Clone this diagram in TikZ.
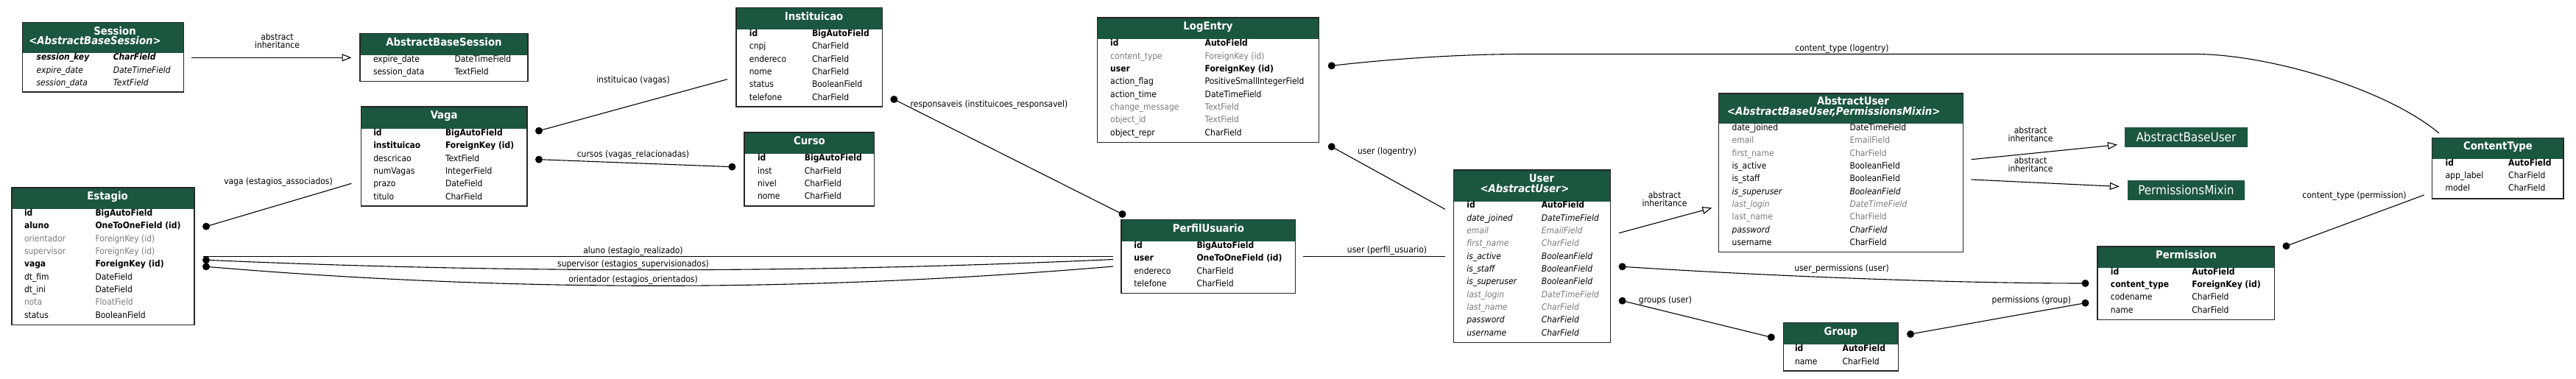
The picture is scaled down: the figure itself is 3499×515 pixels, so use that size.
\documentclass[tikz,border=0pt]{standalone}
\usepackage{fontspec}
\setmainfont{DejaVu Sans Condensed}[BoldFont={DejaVu Sans Condensed Bold},ItalicFont={DejaVu Sans Condensed Oblique},BoldItalicFont={DejaVu Sans Condensed Bold Oblique}]
\usetikzlibrary{arrows.meta,fit}
\definecolor{hdrg}{HTML}{1B563F}
\definecolor{fgrey}{HTML}{7B7B7B}
\tikzset{
  every node/.style={inner sep=0pt, outer sep=0pt},
  fld/.style={anchor=mid west},
  fn/.style={font=\fontsize{12}{14}\selectfont},
  fb/.style={font=\fontsize{12}{14}\selectfont\bfseries},
  fi/.style={font=\fontsize{12}{14}\selectfont\itshape},
  fbi/.style={font=\fontsize{12}{14}\selectfont\bfseries\itshape},
  fg/.style={font=\fontsize{12}{14}\selectfont, text=fgrey},
  fgi/.style={font=\fontsize{12}{14}\selectfont\itshape, text=fgrey},
  ttl/.style={anchor=mid, text=white, font=\fontsize{14.8}{16}\selectfont\bfseries},
  tblbox/.style={draw=black!85, line width=1.3bp, inner sep=0pt},
  plainbox/.style={fill=hdrg, text=white, font=\fontsize{17}{18}\selectfont, anchor=center},
  edge/.style={draw=black, line width=1.1bp},
  inh/.style={edge, -{Triangle[open, length=13bp, width=10bp, line width=1.1bp]}},
  lbl/.style={anchor=mid, align=center, font=\fontsize{12}{11}\selectfont},
  dotn/.style={circle, fill=black, minimum size=10bp},
}
\newcommand\ertbl[6]{%
  \fill[hdrg] (#2,#3) rectangle (#4,#6);
  \coordinate (#1-nw) at (#2,#3); \coordinate (#1-se) at (#4,#5);
  \node[tblbox, fit=(#1-nw)(#1-se)] (#1) {};}
\newcommand\ertrow[7]{%
  \node[fld,#2] (#1k) at (#3,#5) {#6};
  \node[fld,#2] (#1t) at (#4,#5) {#7};}
\begin{document}
\begin{tikzpicture}[x=1bp,y=-1bp]
\fill[white] (0,0) rectangle (3499,515);
\useasboundingbox (0,0) rectangle (3499,515);

% ---------- Session
\ertbl{ses}{30.8}{30.7}{249.3}{125}{72.3}
\node[ttl] (sesT1) at (156,44.3) {Session};
\node[ttl] (sesT2) at (129,57.8) {<\textit{AbstractBaseSession}>};
\ertrow{ses1}{fbi}{49.6}{153.8}{79}{session\_key}{CharField}
\ertrow{ses2}{fi}{49.6}{153.8}{96.3}{expire\_date}{DateTimeField}
\ertrow{ses3}{fi}{49.6}{153.8}{113.7}{session\_data}{TextField}

% ---------- AbstractBaseSession
\ertbl{abs}{489}{45.7}{717}{110.7}{75}
\node[ttl] (absT) at (603,59.3) {AbstractBaseSession};
\ertrow{abs1}{fn}{507}{617.5}{81.7}{expire\_date}{DateTimeField}
\ertrow{abs2}{fn}{507}{617.5}{99}{session\_data}{TextField}

% ---------- Vaga
\ertbl{vag}{490.4}{145}{716}{280}{175}
\node[ttl] (vagT) at (603.2,159) {Vaga};
\ertrow{vag1}{fb}{507.3}{605}{181.7}{id}{BigAutoField}
\ertrow{vag2}{fb}{507.3}{605}{199}{instituicao}{ForeignKey (id)}
\ertrow{vag3}{fn}{507.3}{605}{216.3}{descricao}{TextField}
\ertrow{vag4}{fn}{507.3}{605}{233.6}{numVagas}{IntegerField}
\ertrow{vag5}{fn}{507.3}{605}{251}{prazo}{DateField}
\ertrow{vag6}{fn}{507.3}{605}{268.3}{titulo}{CharField}

% ---------- Estagio
\ertbl{est}{16}{255}{264}{441.7}{284.3}
\node[ttl] (estT) at (146,268.3) {Estagio};
\ertrow{est1}{fb}{33}{129.5}{290.7}{id}{BigAutoField}
\ertrow{est2}{fb}{33}{129.5}{308}{aluno}{OneToOneField (id)}
\ertrow{est3}{fg}{33}{129.5}{325.3}{orientador}{ForeignKey (id)}
\ertrow{est4}{fg}{33}{129.5}{342.7}{supervisor}{ForeignKey (id)}
\ertrow{est5}{fb}{33}{129.5}{360}{vaga}{ForeignKey (id)}
\ertrow{est6}{fn}{33}{129.5}{377.3}{dt\_fim}{DateField}
\ertrow{est7}{fn}{33}{129.5}{394.7}{dt\_ini}{DateField}
\ertrow{est8}{fg}{33}{129.5}{412}{nota}{FloatField}
\ertrow{est9}{fn}{33}{129.5}{429.3}{status}{BooleanField}

% ---------- Instituicao
\ertbl{ins}{1000}{10.7}{1198.5}{145}{40}
\node[ttl] (insT) at (1105.6,24.3) {Instituicao};
\ertrow{ins1}{fb}{1017.9}{1103}{46.7}{id}{BigAutoField}
\ertrow{ins2}{fn}{1017.9}{1103}{64}{cnpj}{CharField}
\ertrow{ins3}{fn}{1017.9}{1103}{81.3}{endereco}{CharField}
\ertrow{ins4}{fn}{1017.9}{1103}{98.7}{nome}{CharField}
\ertrow{ins5}{fn}{1017.9}{1103}{116}{status}{BooleanField}
\ertrow{ins6}{fn}{1017.9}{1103}{133.3}{telefone}{CharField}

% ---------- Curso
\ertbl{cur}{1011}{180}{1187.8}{280}{209.3}
\node[ttl] (curT) at (1099.4,193.8) {Curso};
\ertrow{cur1}{fb}{1029}{1092.9}{216}{id}{BigAutoField}
\ertrow{cur2}{fn}{1029}{1092.9}{233.3}{inst}{CharField}
\ertrow{cur3}{fn}{1029}{1092.9}{250.7}{nivel}{CharField}
\ertrow{cur4}{fn}{1029}{1092.9}{268}{nome}{CharField}

% ---------- LogEntry
\ertbl{log}{1490.3}{24}{1791.8}{193.3}{53.3}
\node[ttl] (logT) at (1641,37.7) {LogEntry};
\ertrow{log1}{fb}{1508.2}{1636.7}{60}{id}{AutoField}
\ertrow{log2}{fg}{1508.2}{1636.7}{77.3}{content\_type}{ForeignKey (id)}
\ertrow{log3}{fb}{1508.2}{1636.7}{94.7}{user}{ForeignKey (id)}
\ertrow{log4}{fn}{1508.2}{1636.7}{112}{action\_flag}{PositiveSmallIntegerField}
\ertrow{log5}{fn}{1508.2}{1636.7}{129.3}{action\_time}{DateTimeField}
\ertrow{log6}{fg}{1508.2}{1636.7}{146.7}{change\_message}{TextField}
\ertrow{log7}{fg}{1508.2}{1636.7}{164}{object\_id}{TextField}
\ertrow{log8}{fn}{1508.2}{1636.7}{181.3}{object\_repr}{CharField}

% ---------- PerfilUsuario
\ertbl{per}{1523}{298.7}{1759.7}{398.7}{328.3}
\node[ttl] (perT) at (1641.4,312.3) {PerfilUsuario};
\ertrow{per1}{fb}{1540.3}{1625.5}{334.7}{id}{BigAutoField}
\ertrow{per2}{fb}{1540.3}{1625.5}{352}{user}{OneToOneField (id)}
\ertrow{per3}{fn}{1540.3}{1625.5}{369.3}{endereco}{CharField}
\ertrow{per4}{fn}{1540.3}{1625.5}{386.7}{telefone}{CharField}

% ---------- User
\ertbl{usr}{1974.5}{231}{2187.8}{465.3}{274}
\node[ttl] (usrT1) at (2094,245) {User};
\node[ttl] (usrT2) at (2071,259) {<\textit{AbstractUser}>};
\ertrow{usr1}{fb}{1992.3}{2093.9}{280}{id}{AutoField}
\ertrow{usr2}{fi}{1992.3}{2093.9}{297.3}{date\_joined}{DateTimeField}
\ertrow{usr3}{fgi}{1992.3}{2093.9}{314.7}{email}{EmailField}
\ertrow{usr4}{fgi}{1992.3}{2093.9}{332}{first\_name}{CharField}
\ertrow{usr5}{fi}{1992.3}{2093.9}{349.3}{is\_active}{BooleanField}
\ertrow{usr6}{fi}{1992.3}{2093.9}{366.7}{is\_staff}{BooleanField}
\ertrow{usr7}{fi}{1992.3}{2093.9}{384}{is\_superuser}{BooleanField}
\ertrow{usr8}{fgi}{1992.3}{2093.9}{401.3}{last\_login}{DateTimeField}
\ertrow{usr9}{fgi}{1992.3}{2093.9}{418.7}{last\_name}{CharField}
\ertrow{usr10}{fi}{1992.3}{2093.9}{436}{password}{CharField}
\ertrow{usr11}{fi}{1992.3}{2093.9}{453.3}{username}{CharField}

% ---------- AbstractUser
\ertbl{abu}{2334.8}{127}{2666.5}{342.7}{168.3}
\node[ttl] (abuT1) at (2517,140) {AbstractUser};
\node[ttl] (abuT2) at (2490.7,153.5) {<\textit{AbstractBaseUser,PermissionsMixin}>};
\ertrow{abu1}{fn}{2352.7}{2512.5}{174.7}{date\_joined}{DateTimeField}
\ertrow{abu2}{fg}{2352.7}{2512.5}{192}{email}{EmailField}
\ertrow{abu3}{fg}{2352.7}{2512.5}{209.3}{first\_name}{CharField}
\ertrow{abu4}{fn}{2352.7}{2512.5}{226.7}{is\_active}{BooleanField}
\ertrow{abu5}{fn}{2352.7}{2512.5}{244}{is\_staff}{BooleanField}
\ertrow{abu6}{fi}{2352.7}{2512.5}{261.3}{is\_superuser}{BooleanField}
\ertrow{abu7}{fgi}{2352.7}{2512.5}{278.7}{last\_login}{DateTimeField}
\ertrow{abu8}{fg}{2352.7}{2512.5}{296}{last\_name}{CharField}
\ertrow{abu9}{fi}{2352.7}{2512.5}{313.3}{password}{CharField}
\ertrow{abu10}{fn}{2352.7}{2512.5}{330.6}{username}{CharField}

% ---------- plain base classes
\node[plainbox, minimum width=167.6bp, minimum height=27.3bp] (abuser) at (2969.4,186.4) {AbstractBaseUser};
\node[plainbox, minimum width=159.6bp, minimum height=27.6bp] (pmix) at (2969.4,258.5) {PermissionsMixin};

% ---------- ContentType
\ertbl{ct}{3303.8}{187.3}{3482.1}{270}{216}
\node[ttl] (ctT) at (3393,200.5) {ContentType};
\ertrow{ct1}{fb}{3321.6}{3407.2}{222.3}{id}{AutoField}
\ertrow{ct2}{fn}{3321.6}{3407.2}{239.7}{app\_label}{CharField}
\ertrow{ct3}{fn}{3321.6}{3407.2}{257}{model}{CharField}

% ---------- Permission
\ertbl{prm}{2849}{335}{3089.8}{434.3}{364.3}
\node[ttl] (prmT) at (2969.4,348.8) {Permission};
\ertrow{prm1}{fb}{2866.9}{2977.4}{370.3}{id}{AutoField}
\ertrow{prm2}{fb}{2866.9}{2977.4}{387.7}{content\_type}{ForeignKey (id)}
\ertrow{prm3}{fn}{2866.9}{2977.4}{405}{codename}{CharField}
\ertrow{prm4}{fn}{2866.9}{2977.4}{422.3}{name}{CharField}

% ---------- Group
\ertbl{grp}{2422.3}{438.3}{2578.6}{504}{468.3}
\node[ttl] (grpT) at (2500.4,452.8) {Group};
\ertrow{grp1}{fb}{2438}{2502.7}{475}{id}{AutoField}
\ertrow{grp2}{fn}{2438}{2502.7}{492.3}{name}{CharField}

% ================= connectors
% Session -> AbstractBaseSession
\coordinate (sesOut) at (260,78.3); \coordinate (absIn) at (477.5,78.3);
\draw[inh] (sesOut) -- (absIn);
\node[lbl] (l1) at (376.5,62.8) {abstract\\inheritance};

% instituicao (vagas)
\node[dotn] (d2) at (732,177.7) {}; \coordinate (c2) at (988,107.7);
\draw[edge] (d2.center) -- (c2);
\node[lbl] (l2) at (860,109.3) {instituicao (vagas)};

% cursos (vagas_relacionadas)
\node[dotn] (d3a) at (732,216.7) {}; \node[dotn] (d3b) at (994.4,226.7) {};
\draw[edge] (d3a.center) -- (d3b.center);
\node[lbl] (l3) at (860,210.7) {cursos (vagas\_relacionadas)};

% vaga (estagios_associados)
\node[dotn] (d4) at (280,307.7) {}; \coordinate (c4) at (477.5,249.3);
\draw[edge] (d4.center) -- (c4);
\node[lbl] (l4) at (378,247.5) {vaga (estagios\_associados)};

% aluno (estagio_realizado)
\coordinate (c5a) at (276,348.3); \coordinate (c5b) at (1512,348.3);
\draw[edge] (c5a) -- (c5b);
\node[lbl] (l5) at (860,341.7) {aluno (estagio\_realizado)};

% supervisor
\node[dotn] (d6) at (280,353.3) {}; \coordinate (c6) at (1512,352.5);
\draw[edge] (d6.center) .. controls (690,371.3) and (1100,371.3) .. (c6);
\node[lbl] (l6) at (860,359.3) {supervisor (estagios\_supervisionados)};

% orientador
\node[dotn] (d7) at (280,362.3) {}; \coordinate (c7) at (1512,362);
\draw[edge] (d7.center) .. controls (690,397) and (1100,397) .. (c7);
\node[lbl] (l7) at (860,380.5) {orientador (estagios\_orientados)};

% responsaveis
\node[dotn] (d8a) at (1214.3,135) {}; \node[dotn] (d8b) at (1524.5,291) {};
\draw[edge] (d8a.center) -- (d8b.center);
\node[lbl, anchor=mid west] (l8) at (1236.7,142.7) {responsaveis (instituicoes\_responsavel)};

% content_type (logentry)
\node[dotn] (d9) at (1808.7,89.3) {}; \coordinate (c9) at (3313,181);
\draw[edge] (d9.center) .. controls (1900,79) and (1990,73.5) .. (2071,73.5) -- (2981,73.5) .. controls (3080,73.5) and (3240,120) .. (c9);
\node[lbl] (l9) at (2502,66.7) {content\_type (logentry)};

% user (logentry)
\node[dotn] (d10) at (1808.7,199.3) {}; \coordinate (c10) at (1962.8,284.3);
\draw[edge] (d10.center) -- (c10);
\node[lbl, anchor=mid west] (l10) at (1844,206.7) {user (logentry)};

% user (perfil_usuario)
\coordinate (c11a) at (1770.4,348.7); \coordinate (c11b) at (1962.8,348.7);
\draw[edge] (c11a) -- (c11b);
\node[lbl] (l11) at (1884,340.7) {user (perfil\_usuario)};

% User -> AbstractUser
\coordinate (c12a) at (2199,316.7); \coordinate (c12b) at (2325.4,282.5);
\draw[inh] (c12a) -- (c12b);
\node[lbl] (l12) at (2261,277.5) {abstract\\inheritance};

% AbstractUser -> AbstractBaseUser / PermissionsMixin
\coordinate (c13a) at (2677.7,216.7); \coordinate (c13b) at (2876,196.7);
\draw[inh] (c13a) -- (c13b);
\node[lbl] (l13) at (2758,190) {abstract\\inheritance};
\coordinate (c14a) at (2677.7,244); \coordinate (c14b) at (2878.8,253.5);
\draw[inh] (c14a) -- (c14b);
\node[lbl] (l14) at (2758,231) {abstract\\inheritance};

% user_permissions (user)
\node[dotn] (d15a) at (2203.6,362.3) {}; \node[dotn] (d15b) at (2832.5,385) {};
\draw[edge] (d15a.center) .. controls (2400,375) and (2650,385) .. (d15b.center);
\node[lbl] (l15) at (2501.5,366) {user\_permissions (user)};

% groups (user)
\node[dotn] (d16a) at (2203.6,408.7) {}; \node[dotn] (d16b) at (2405.8,458.3) {};
\draw[edge] (d16a.center) -- (d16b.center);
\node[lbl, anchor=mid west] (l16) at (2225.9,408.7) {groups (user)};

% permissions (group)
\node[dotn] (d17a) at (2595,454) {}; \node[dotn] (d17b) at (2832.5,411.7) {};
\draw[edge] (d17a.center) -- (d17b.center);
\node[lbl, anchor=mid east] (l17) at (2813,408.3) {permissions (group)};

% content_type (permission)
\node[dotn] (d18) at (3105.4,334.3) {}; \coordinate (c18) at (3292.6,265);
\draw[edge] (d18.center) -- (c18);
\node[lbl] (l18) at (3198,266.7) {content\_type (permission)};
\end{tikzpicture}
\end{document}
